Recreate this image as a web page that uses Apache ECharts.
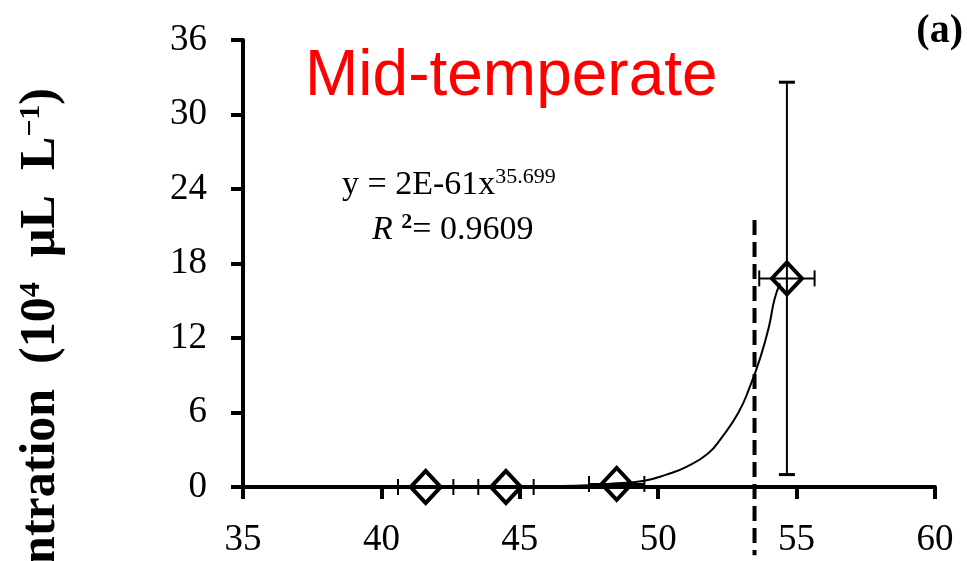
<!DOCTYPE html>
<html>
<head>
<meta charset="utf-8">
<script src="https://cdn.jsdelivr.net/npm/echarts@6/dist/echarts.min.js"></script>
<style>
  html, body { margin: 0; padding: 0; background: #fff; }
  #chart { width: 967px; height: 561px; }
</style>
</head>
<body>
<div id="chart"></div>
<script>
// measured points (temperature vs concentration)
const pointX = [41.6, 44.5, 48.5, 54.65];
const pointY = [0, 0, 0.25, 16.8];
const xErr = [1.0, 1.0, 1.0, 1.0];
const yErr = [0, 0, 0, 15.8];

// power trendline
const trendX = [41.6, 44.5, 47.0, 48.5, 49.5, 50.3, 51.0, 51.8, 52.3, 52.9, 53.3, 53.7, 54.0, 54.2, 54.4];
const trendY = [0, 0.02, 0.1, 0.3, 0.5, 1.0, 1.6, 2.7, 4.0, 6.0, 8.0, 10.5, 12.9, 15.1, 16.4];

// dashed threshold line
const thresholdX = [53.48, 53.48];
const thresholdY = [21.5, -5.5];

const xTicks = [35, 40, 45, 50, 55, 60];
const yTicks = [0, 6, 12, 18, 24, 30, 36];

const serif = '"Liberation Serif", "Times New Roman", serif';

const chart = echarts.init(document.getElementById('chart'));

const errData = pointX.map((x, i) => [x, pointY[i], xErr[i], yErr[i]]);

chart.setOption({
  animation: false,
  backgroundColor: '#fff',
  grid: { left: 243, right: 32, top: 40, bottom: 74 },
  xAxis: {
    type: 'value',
    min: xTicks[0],
    max: xTicks[xTicks.length - 1],
    interval: 5,
    axisLine: { lineStyle: { color: '#000', width: 4 } },
    axisTick: { inside: false, length: 12, lineStyle: { color: '#000', width: 4 } },
    axisLabel: { color: '#000', fontFamily: serif, fontSize: 37, margin: 35 },
    splitLine: { show: false }
  },
  yAxis: {
    type: 'value',
    min: yTicks[0],
    max: yTicks[yTicks.length - 1],
    interval: 6,
    axisLine: { show: true, lineStyle: { color: '#000', width: 4 } },
    axisTick: { show: true, inside: false, length: 12, lineStyle: { color: '#000', width: 4 } },
    axisLabel: { color: '#000', fontFamily: serif, fontSize: 37, margin: 36 },
    splitLine: { show: false }
  },
  graphic: [
    {
      type: 'text',
      x: 41,
      y: 88,
      rotation: Math.PI / 2,
      style: {
        text: '{b|Concentration  (10}{s|4}{b|  µL  L}{s|−1}{b|)}',
        align: 'right',
        verticalAlign: 'middle',
        fill: '#000',
        rich: {
          b: { fontFamily: serif, fontWeight: 'bold', fontSize: 50, fill: '#000' },
          s: { fontFamily: serif, fontWeight: 'bold', fontSize: 30, fill: '#000', verticalAlign: 'top', padding: [0, 0, 20, 0] }
        }
      }
    },
    {
      type: 'text',
      left: 305,
      top: 45,
      style: {
        text: 'Mid-temperate',
        fill: '#ff0000',
        font: '64px "Liberation Sans", Arial, sans-serif'
      }
    },
    {
      type: 'text',
      left: 342,
      top: 166,
      style: {
        text: '{n|y = 2E-61x}{s|35.699}',
        rich: {
          n: { fontFamily: serif, fontSize: 34, fill: '#000' },
          s: { fontFamily: serif, fontSize: 22, fill: '#000', verticalAlign: 'top', padding: [0, 0, 16, 0] }
        }
      }
    },
    {
      type: 'text',
      left: 372,
      top: 211,
      style: {
        text: '{i|R }{s|2}{n|= 0.9609}',
        rich: {
          i: { fontFamily: serif, fontStyle: 'italic', fontSize: 34, fill: '#000' },
          n: { fontFamily: serif, fontSize: 34, fill: '#000' },
          s: { fontFamily: serif, fontWeight: 'bold', fontSize: 22, fill: '#000', verticalAlign: 'top', padding: [0, 0, 16, 0] }
        }
      }
    },
    {
      type: 'text',
      right: 4,
      top: 12,
      style: {
        text: '(a)',
        fill: '#000',
        font: 'bold 40px "Liberation Serif", "Times New Roman", serif'
      }
    }
  ],
  series: [
    {
      name: 'trend',
      type: 'line',
      data: trendX.map((x, i) => [x, trendY[i]]),
      smooth: true,
      symbol: 'none',
      lineStyle: { color: '#000', width: 2 },
      z: 2
    },
    {
      name: 'threshold',
      type: 'line',
      data: thresholdX.map((x, i) => [x, thresholdY[i]]),
      clip: false,
      symbol: 'none',
      lineStyle: { color: '#000', width: 4, type: [15, 7] },
      z: 3
    },
    {
      name: 'error',
      type: 'custom',
      data: errData,
      clip: false,
      z: 4,
      renderItem: function (params, api) {
        const x = api.value(0), y = api.value(1), ex = api.value(2), ey = api.value(3);
        const c = api.coord([x, y]);
        const l = api.coord([x - ex, y]);
        const r = api.coord([x + ex, y]);
        const style = { stroke: '#000', lineWidth: 2 };
        const children = [
          { type: 'line', shape: { x1: l[0], y1: c[1], x2: r[0], y2: c[1] }, style: style },
          { type: 'line', shape: { x1: l[0], y1: c[1] - 8, x2: l[0], y2: c[1] + 8 }, style: style },
          { type: 'line', shape: { x1: r[0], y1: c[1] - 8, x2: r[0], y2: c[1] + 8 }, style: style }
        ];
        if (ey > 0) {
          const t = api.coord([x, y + ey]);
          const b = api.coord([x, y - ey]);
          children.push(
            { type: 'line', shape: { x1: c[0], y1: t[1], x2: c[0], y2: b[1] }, style: style },
            { type: 'line', shape: { x1: c[0] - 8, y1: t[1], x2: c[0] + 8, y2: t[1] }, style: { stroke: '#000', lineWidth: 3 } },
            { type: 'line', shape: { x1: c[0] - 8, y1: b[1], x2: c[0] + 8, y2: b[1] }, style: { stroke: '#000', lineWidth: 3 } }
          );
        }
        return { type: 'group', children: children };
      }
    },
    {
      name: 'points',
      type: 'scatter',
      data: pointX.map((x, i) => [x, pointY[i]]),
      symbol: 'diamond',
      symbolSize: [30, 32],
      clip: false,
      itemStyle: { color: 'transparent', borderColor: '#000', borderWidth: 4, opacity: 1 },
      z: 5
    }
  ]
});
</script>
</body>
</html>
